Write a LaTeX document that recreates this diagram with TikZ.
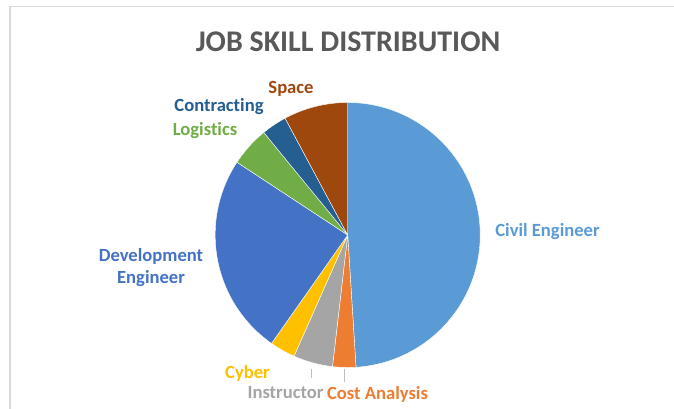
\documentclass[tikz,border=0pt]{standalone}
\usepackage{fontspec}
\setmainfont{Carlito}[Ligatures=NoCommon]
\definecolor{civil}{HTML}{5B9BD5}
\definecolor{cost}{HTML}{ED7D31}
\definecolor{instr}{HTML}{A5A5A5}
\definecolor{cyber}{HTML}{FFC000}
\definecolor{devel}{HTML}{4472C4}
\definecolor{logis}{HTML}{70AD47}
\definecolor{contr}{HTML}{255E91}
\definecolor{space}{HTML}{9E480E}
\definecolor{titlecol}{HTML}{595959}
\definecolor{framecol}{HTML}{D9D9D9}
\definecolor{leadcol}{HTML}{BFBFBF}
\tikzset{
  slice/.style={draw=white, line width=0.4pt, line join=round},
  lab/.style={font=\bfseries\fontsize{18.6}{22}\selectfont, inner sep=0pt},
  leader/.style={draw=leadcol, line width=1pt},
}
\begin{document}
\begin{tikzpicture}[x=1pt,y=1pt]
\useasboundingbox (0,0) rectangle (674,409);
\fill[white] (0,0) rectangle (674,409);
\draw[framecol, line width=1.5pt] (10,0) -- (10,402.5) -- (674,402.5);
\node[font=\bfseries\fontsize{30}{36}\selectfont, text=titlecol, inner sep=0pt] (title) at (348,367) {JOB SKILL DISTRIBUTION};
\coordinate (c) at (347.7,174);
\def\R{132.5}
\fill[slice, fill=civil] (c) -- ++(90:\R) arc[start angle=90, end angle=-86.4, radius=\R] -- cycle;
\fill[slice, fill=cost] (c) -- ++(-86.4:\R) arc[start angle=-86.4, end angle=-96.6, radius=\R] -- cycle;
\fill[slice, fill=instr] (c) -- ++(-96.6:\R) arc[start angle=-96.6, end angle=-113.9, radius=\R] -- cycle;
\fill[slice, fill=cyber] (c) -- ++(-113.9:\R) arc[start angle=-113.9, end angle=-125.1, radius=\R] -- cycle;
\fill[slice, fill=devel] (c) -- ++(-125.1:\R) arc[start angle=-125.1, end angle=-213.3, radius=\R] -- cycle;
\fill[slice, fill=logis] (c) -- ++(-213.3:\R) arc[start angle=-213.3, end angle=-230.7, radius=\R] -- cycle;
\fill[slice, fill=contr] (c) -- ++(-230.7:\R) arc[start angle=-230.7, end angle=-241.8, radius=\R] -- cycle;
\fill[slice, fill=space] (c) -- ++(-241.8:\R) arc[start angle=-241.8, end angle=-270, radius=\R] -- cycle;
\node[lab, text=space] (lspace) at (291,320) {Space};
\node[lab, text=contr] (lcontr) at (219,302) {Contracting};
\node[lab, text=logis] (llogis) at (205,278) {Logistics};
\node[lab, text=devel, align=center] (ldevel) at (151,141) {Development\\Engineer};
\node[lab, text=civil] (lcivil) at (547.5,177) {Civil Engineer};
\node[lab, text=cyber] (lcyber) at (247.5,36) {Cyber};
\node[lab, text=instr] (linstr) at (285.5,16) {Instructor};
\node[lab, text=cost] (lcost) at (377.5,15) {Cost Analysis};
\coordinate (pinstr) at (311.7,40);
\coordinate (qinstr) at (311.7,31);
\coordinate (pcost) at (344.3,40);
\coordinate (qcost) at (344.3,27);
\draw[leader] (pinstr) -- (qinstr);
\draw[leader] (pcost) -- (qcost);
\end{tikzpicture}
\end{document}
